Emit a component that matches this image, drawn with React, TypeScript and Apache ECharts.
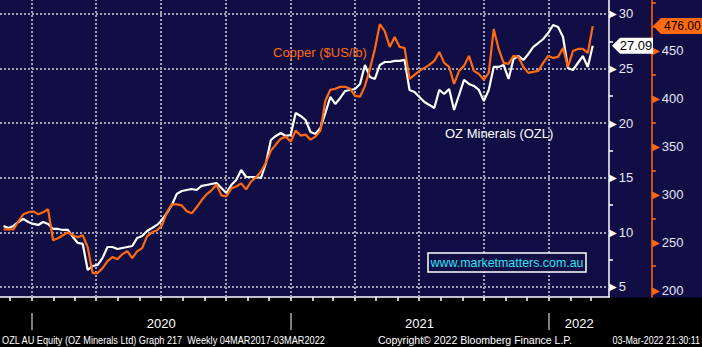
import React, { useEffect, useRef } from 'react';
import * as echarts from 'echarts';

// ---- data (weekly closes, first week ending 2019-11-22) ----
const FIRST_WEEK = '2019-11-22';
const ozlValues = [
  10.59, 10.4, 10.59, 10.95, 11.23, 10.95, 10.77, 10.68, 10.95, 10.77,
  10.31, 10.31, 10.22, 10.22, 9.58, 9.03, 8.94, 6.56, 6.92, 7.01,
  7.66, 8.66, 8.66, 8.48, 8.57, 8.66, 8.75, 9.49, 9.67, 10.13,
  10.4, 10.68, 11.14, 11.78, 12.51, 13.52, 13.79, 13.88, 13.97, 13.88,
  14.25, 14.34, 14.43, 14.52, 14.07, 13.61, 14.34, 14.8, 15.71, 15.07,
  15.07, 15.07, 14.98, 16.36, 18.46, 18.83, 19.1, 18.83, 18.92, 20.93,
  20.66, 20.29, 19.19, 19.01, 19.56, 20.93, 22.4, 21.76, 22.31, 22.95,
  23.04, 23.13, 23.59, 25.33, 24.23, 24.05, 25.33, 25.6, 25.6, 25.7,
  25.7, 25.79, 23.04, 22.86, 22.4, 21.94, 21.67, 21.39, 23.04, 22.67,
  23.13, 21.21, 22.58, 23.96, 23.59, 23.41, 23.04, 22.03, 23.04, 25.15,
  25.15, 25.33, 24.05, 25.88, 26.15, 25.79, 26.34, 26.98, 27.34, 27.71,
  28.26, 28.99, 28.81, 27.89, 25.05, 24.87, 25.51, 26.15, 25.15, 27.09,
];
const copperValues = [
  263.5, 263.5, 263.5, 271.9, 279.2, 281.3, 282.3, 279.2, 281.3, 284.4,
  252.1, 254.2, 257.3, 260.4, 257.3, 255.2, 257.3, 244.8, 217.7, 217.7,
  222.9, 230.2, 234.4, 232.3, 237.5, 240.6, 233.3, 240.6, 243.8, 256.3,
  260.4, 262.5, 267.7, 281.3, 289.6, 289.6, 288.5, 282.3, 280.2, 286.5,
  293.8, 300.0, 304.2, 310.4, 299.0, 297.9, 306.3, 308.3, 311.5, 305.2,
  313.5, 317.7, 324.0, 333.3, 345.8, 352.1, 358.3, 360.4, 355.2, 366.7,
  361.5, 362.5, 357.3, 360.4, 366.7, 397.9, 409.4, 410.4, 412.5, 412.5,
  410.4, 403.1, 402.1, 413.5, 431.3, 452.1, 478.1, 470.8, 454.2, 464.6,
  454.2, 453.1, 420.8, 425.0, 429.2, 432.3, 435.4, 439.6, 449.0, 437.5,
  433.3, 415.6, 429.2, 434.4, 444.8, 429.2, 426.0, 419.8, 427.1, 472.9,
  452.1, 437.5, 436.5, 444.8, 443.8, 433.3, 427.1, 428.1, 429.2, 437.5,
  444.8, 442.7, 443.8, 453.1, 433.3, 450.0, 452.1, 452.1, 447.9, 476.0,
];

const xRange = ['2019-11-17', '2022-03-27'];
const yearLabels = ['2020', '2021', '2022'];
const yearLabelAt = ['2020-07-02', '2021-07-02', '2022-02-13'];
const yearStarts = ['2020-01-01', '2021-01-01', '2022-01-01'];
const quarterLines = [
  '2020-01-01', '2020-04-01', '2020-07-01', '2020-10-01',
  '2021-01-01', '2021-04-01', '2021-07-01', '2021-10-01', '2022-01-01',
];
const ozlTickLabels = [5, 10, 15, 20, 25, 30];
const ozlMinorTicks = [7.5, 12.5, 17.5, 22.5, 27.5];
const ozlRange = [4.08, 31.28];
const copperTickLabels = [200, 250, 300, 350, 400, 450];
const copperMinorTicks = [225, 275, 325, 375, 425, 475, 500];
const copperRange = [192.7, 503.3];

const seriesNames = ['OZ Minerals (OZL)', 'Copper ($US/lb)'];
const footerLeft = 'OZL AU Equity (OZ Minerals Ltd) Graph 217  Weekly 04MAR2017-03MAR2022';
const footerMid = 'Copyright\u00A9 2022 Bloomberg Finance L.P.';
const footerRight = '03-Mar-2022 21:30:11';
const watermark = 'www.marketmatters.com.au';

// ---- styling ----
const NAVY = '#110e45';
const ORANGE = '#ff6a10';
const WHITE = '#ffffff';
const GRID = '#a2a2b2';
const LABEL = '#e6e8f8';
const FONT = '"Liberation Sans", Arial, sans-serif';

const t = (s: string) => Date.parse(s + 'T00:00:00Z');
const WEEK = 7 * 24 * 3600 * 1000;

export default function App() {
  const ref = useRef<HTMLDivElement>(null);
  useEffect(() => {
    if (!ref.current) return;
    const chart = echarts.init(ref.current, undefined, { renderer: 'svg' });
    const start = t(FIRST_WEEK);
    const ozlData = ozlValues.map((v, i) => [start + i * WEEK, v]);
    const cuData = copperValues.map((v, i) => [start + i * WEEK, v]);
    const monthTicks: number[] = [];
    for (let i = 0; i < 28; i++) {
      const mi = 11 + i;
      monthTicks.push(Date.UTC(2019 + Math.floor(mi / 12), mi % 12, 1));
    }
    const labelAt = yearLabelAt.map(t);
    const yearOf = (v: number) => {
      let best = 0;
      labelAt.forEach((p, i) => { if (Math.abs(p - v) < Math.abs(labelAt[best] - v)) best = i; });
      return yearLabels[best];
    };

    chart.setOption({
      animation: false,
      backgroundColor: NAVY,
      grid: { left: 0, top: 0, width: 609, height: 297, containLabel: false, outerBoundsMode: 'none' },
      xAxis: [
        {
          type: 'value',
          min: t(xRange[0]),
          max: t(xRange[1]),
          position: 'bottom',
          axisLine: { show: true, onZero: false, lineStyle: { color: WHITE, width: 1.5 } },
          axisTick: { show: true, customValues: monthTicks, length: 4, lineStyle: { color: WHITE, width: 1.5 } },
          axisLabel: {
            show: true,
            customValues: labelAt,
            margin: 20,
            color: WHITE,
            fontSize: 13,
            fontFamily: FONT,
            formatter: (v: number) => yearOf(v),
          },
          splitLine: { show: false },
        },
        {
          type: 'value',
          min: t(xRange[0]),
          max: t(xRange[1]),
          position: 'bottom',
          offset: 16,
          axisLine: { show: false, onZero: false },
          axisTick: { show: true, customValues: yearStarts.map(t), length: 17, lineStyle: { color: '#a8a8a8', width: 1.5 } },
          axisLabel: { show: false },
          splitLine: { show: false },
        },
      ],
      yAxis: [
        {
          type: 'value',
          position: 'right',
          min: ozlRange[0],
          max: ozlRange[1],
          axisLine: { show: true, onZero: false, lineStyle: { color: WHITE, width: 1.5 } },
          axisTick: { show: true, customValues: ozlMinorTicks, length: 4, lineStyle: { color: WHITE, width: 1.5 } },
          axisLabel: {
            show: true,
            customValues: ozlTickLabels,
            margin: 0,
            formatter: (v: number) => `{t|\u25B6}{n|${v}}`,
            rich: {
              t: { color: WHITE, fontSize: 10, fontFamily: 'DejaVu Sans', padding: [0, 2, 0, 0] },
              n: { color: LABEL, fontSize: 13, fontFamily: FONT },
            },
          },
          splitLine: { show: false },
        },
        {
          type: 'value',
          position: 'right',
          offset: 43,
          min: copperRange[0],
          max: copperRange[1],
          axisLine: { show: true, onZero: false, lineStyle: { color: ORANGE, width: 1.5 } },
          axisTick: { show: true, customValues: copperMinorTicks, length: 4, lineStyle: { color: ORANGE, width: 1.5 } },
          axisLabel: {
            show: true,
            customValues: copperTickLabels,
            margin: 0,
            formatter: (v: number) => `{t|\u25B6}{n|${v}}`,
            rich: {
              t: { color: ORANGE, fontSize: 10, fontFamily: 'DejaVu Sans', padding: [0, 2, 0, 0] },
              n: { color: LABEL, fontSize: 13, fontFamily: FONT },
            },
          },
          splitLine: { show: false },
        },
      ],
      series: [
        {
          name: seriesNames[0],
          type: 'line',
          xAxisIndex: 0,
          yAxisIndex: 0,
          data: ozlData,
          showSymbol: false,
          symbol: 'none',
          z: 3,
          lineStyle: { color: WHITE, width: 2.2 },
          markLine: {
            silent: true,
            z: 1,
            symbol: ['none', 'none'],
            label: { show: false },
            lineStyle: { color: GRID, type: [2, 2], width: 2 },
            emphasis: { disabled: true },
            data: [
              ...ozlTickLabels.map((v) => ({ yAxis: v })),
              ...quarterLines.map((d) => ({ xAxis: t(d) })),
            ],
          },
        },
        {
          name: seriesNames[1],
          type: 'line',
          xAxisIndex: 0,
          yAxisIndex: 1,
          data: cuData,
          showSymbol: false,
          symbol: 'none',
          z: 4,
          lineStyle: { color: ORANGE, width: 2.2 },
        },
      ],
    });

    const ozlLast = ozlValues[ozlValues.length - 1];
    const cuLast = copperValues[copperValues.length - 1];
    const yO = chart.convertToPixel({ yAxisIndex: 0 }, ozlLast) as number;
    const yC = chart.convertToPixel({ yAxisIndex: 1 }, cuLast) as number;
    const axisX = 609;
    const cuAxisX = axisX + 43;

    chart.setOption({
      graphic: [
        { id: 'bottom', type: 'rect', z: -10, silent: true, shape: { x: 0, y: 297.5, width: 702, height: 50 }, style: { fill: '#000000' } },
        {
          id: 'wmbox', type: 'rect', z: 6, silent: true,
          shape: { x: 428, y: 253, width: 158, height: 19 },
          style: { fill: NAVY, stroke: WHITE, lineWidth: 1.5 },
        },
        {
          id: 'wmtext', type: 'text', z: 7, silent: true, x: 507, y: 263,
          style: { text: watermark, fill: '#30e2f2', font: `12.4px ${FONT}`, align: 'center', verticalAlign: 'middle' },
        },
        {
          id: 'cuName', type: 'text', z: 7, silent: true, x: 273, y: 52,
          style: { text: seriesNames[1], fill: ORANGE, font: `13px ${FONT}`, align: 'left', verticalAlign: 'middle' },
        },
        {
          id: 'ozlName', type: 'text', z: 7, silent: true, x: 445, y: 133,
          style: { text: seriesNames[0], fill: WHITE, font: `13px ${FONT}`, align: 'left', verticalAlign: 'middle' },
        },
        {
          id: 'ozlTag', type: 'polygon', z: 20, silent: true,
          shape: { points: [[axisX + 3, yO], [axisX + 11, yO - 8], [cuAxisX + 1, yO - 8], [cuAxisX + 1, yO + 8], [axisX + 11, yO + 8]] },
          style: { fill: WHITE },
        },
        {
          id: 'ozlTagText', type: 'text', z: 21, silent: true, x: (axisX + 11 + cuAxisX) / 2, y: yO,
          style: { text: ozlLast.toFixed(2), fill: '#000', font: `13px ${FONT}`, align: 'center', verticalAlign: 'middle' },
        },
        {
          id: 'cuTag', type: 'polygon', z: 20, silent: true,
          shape: { points: [[cuAxisX + 1, yC], [cuAxisX + 9, yC - 8], [702, yC - 8], [702, yC + 8], [cuAxisX + 9, yC + 8]] },
          style: { fill: ORANGE },
        },
        {
          id: 'cuTagText', type: 'text', z: 21, silent: true, x: 664, y: yC,
          style: { text: cuLast.toFixed(2), fill: '#000', font: `12px ${FONT}`, align: 'left', verticalAlign: 'middle' },
        },
        {
          id: 'f1', type: 'text', z: 7, silent: true, x: 2, y: 340, scaleX: 0.835,
          style: { text: footerLeft, fill: WHITE, font: `11px ${FONT}`, align: 'left', verticalAlign: 'middle' },
        },
        {
          id: 'f2', type: 'text', z: 7, silent: true, x: 378, y: 340, scaleX: 0.96,
          style: { text: footerMid, fill: WHITE, font: `11px ${FONT}`, align: 'left', verticalAlign: 'middle' },
        },
        {
          id: 'f3', type: 'text', z: 7, silent: true, x: 700, y: 340, scaleX: 0.81,
          style: { text: footerRight, fill: WHITE, font: `11px ${FONT}`, align: 'right', verticalAlign: 'middle' },
        },
      ],
    });

    return () => chart.dispose();
  }, []);
  return <div ref={ref} style={{ position: 'fixed', left: 0, top: 0, width: 702, height: 347 }} />;
}
